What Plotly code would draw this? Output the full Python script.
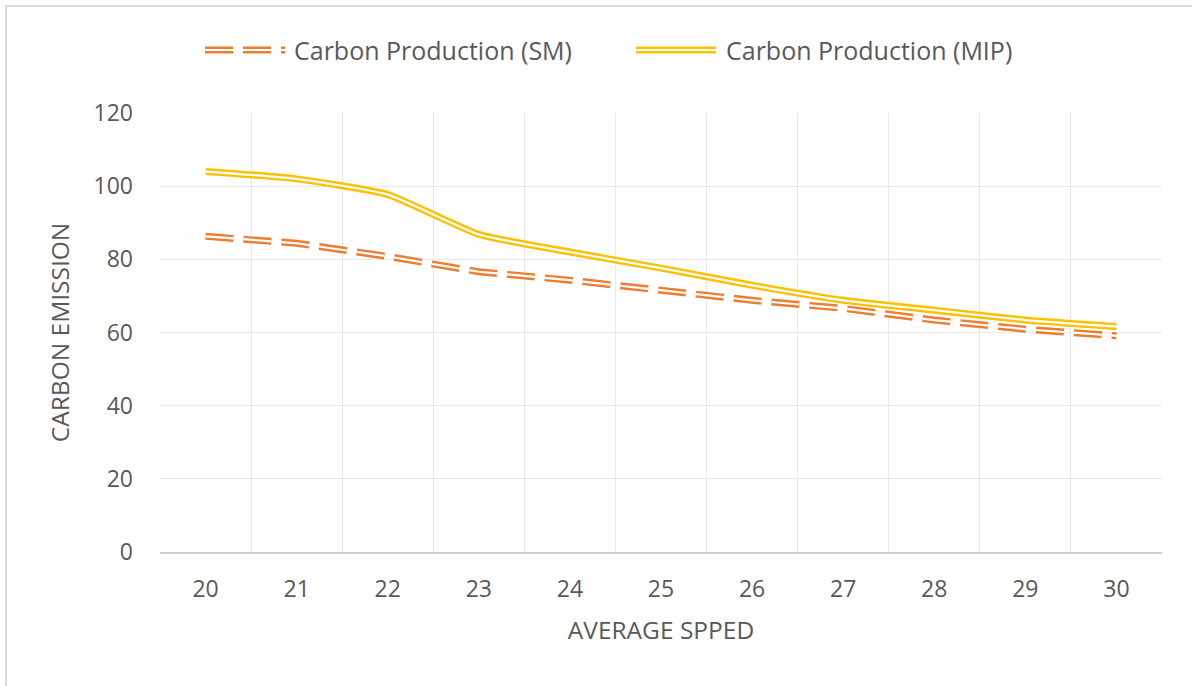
import plotly.graph_objects as go

speeds = ["20", "21", "22", "23", "24", "25", "26", "27", "28", "29", "30"]
sm_values = [86.3, 84.4, 80.8, 76.6, 74.3, 71.5, 68.8, 66.6, 63.4, 60.9, 59.1]
mip_values = [104.0, 102.0, 97.7, 86.8, 82.0, 77.6, 72.9, 68.8, 66.1, 63.4, 61.6]

sm_name = "Carbon Production (SM)"
mip_name = "Carbon Production (MIP)"
x_title = "AVERAGE SPPED"
y_title = "CARBON EMISSION"

SM_COLOR = "#ED7D31"
MIP_COLOR = "#FFC000"
TEXT = "#595959"
FONT = "Open Sans, Liberation Sans, sans-serif"
DASH = "28px,10px"
OUTER_W, INNER_W = 7, 2.2

fig = go.Figure()

# Outer (coloured) strokes
fig.add_trace(go.Scatter(x=speeds, y=sm_values, mode="lines", name=sm_name, showlegend=False,
                         line=dict(color=SM_COLOR, width=OUTER_W, dash=DASH)))
fig.add_trace(go.Scatter(x=speeds, y=mip_values, mode="lines", name=mip_name, showlegend=False,
                         line=dict(color=MIP_COLOR, width=OUTER_W, shape="spline", smoothing=0.5)))
# Inner white strokes -> compound (double) line look
fig.add_trace(go.Scatter(x=speeds, y=sm_values, mode="lines", showlegend=False, hoverinfo="skip",
                         line=dict(color="white", width=INNER_W, dash=DASH)))
fig.add_trace(go.Scatter(x=speeds, y=mip_values, mode="lines", showlegend=False, hoverinfo="skip",
                         line=dict(color="white", width=INNER_W, shape="spline", smoothing=0.5)))

W, H = 1192, 686
L, R, T, B = 160, 30, 113, 134
pw, ph = W - L - R, H - T - B


def px_x(px):
    return (px - L) / pw


def px_y(py):
    return (H - B - py) / ph


# Legend drawn manually so the double-line symbols can be shown
legend_y = px_y(50)
shapes = []
annotations = []
for (x0, x1, color, dash, text, tx) in [
    (205, 285, SM_COLOR, DASH, sm_name, 292),
    (636, 716, MIP_COLOR, "solid", mip_name, 724),
]:
    shapes.append(dict(type="line", xref="paper", yref="paper", x0=px_x(x0), x1=px_x(x1),
                       y0=legend_y, y1=legend_y, line=dict(color=color, width=OUTER_W, dash=dash)))
    shapes.append(dict(type="line", xref="paper", yref="paper", x0=px_x(x0), x1=px_x(x1),
                       y0=legend_y, y1=legend_y, line=dict(color="white", width=INNER_W, dash=dash)))
    annotations.append(dict(text=text, xref="paper", yref="paper", x=px_x(tx), y=legend_y,
                            xanchor="left", yanchor="middle", showarrow=False,
                            font=dict(size=25, color=TEXT, family=FONT)))

# Chart border (left and top edges visible in the reference)
shapes.append(dict(type="line", xref="paper", yref="paper", x0=px_x(6), x1=px_x(6),
                   y0=px_y(5), y1=px_y(H + 5), line=dict(color="#DCDCDC", width=2)))
shapes.append(dict(type="line", xref="paper", yref="paper", x0=px_x(5), x1=px_x(W + 5),
                   y0=px_y(6), y1=px_y(6), line=dict(color="#DCDCDC", width=2)))

fig.update_layout(
    width=W, height=H,
    margin=dict(l=L, r=R, t=T, b=B),
    paper_bgcolor="white", plot_bgcolor="white",
    font=dict(family=FONT, color=TEXT, size=22),
    showlegend=False,
    xaxis=dict(type="category", range=[-0.5, 10.5], tickson="boundaries",
               showgrid=True, gridcolor="#E8E8E8", gridwidth=1,
               showline=True, linecolor="#D0D0D0", linewidth=2,
               ticks="", ticklabelstandoff=15, tickfont=dict(size=23, color=TEXT),
               title=dict(text=x_title, font=dict(size=24.5, color=TEXT), standoff=19),
               zeroline=False),
    yaxis=dict(range=[0, 120], dtick=20, tick0=0,
               showgrid=True, gridcolor="#E8E8E8", gridwidth=1,
               showline=False, zeroline=False,
               ticks="", ticklabelstandoff=26, tickfont=dict(size=23, color=TEXT),
               title=dict(text=y_title, font=dict(size=24.5, color=TEXT), standoff=16)),
    shapes=shapes,
    annotations=annotations,
)

fig.write_html("out.html", post_script="document.body.style.margin='0';",
               config={"displayModeBar": False})
